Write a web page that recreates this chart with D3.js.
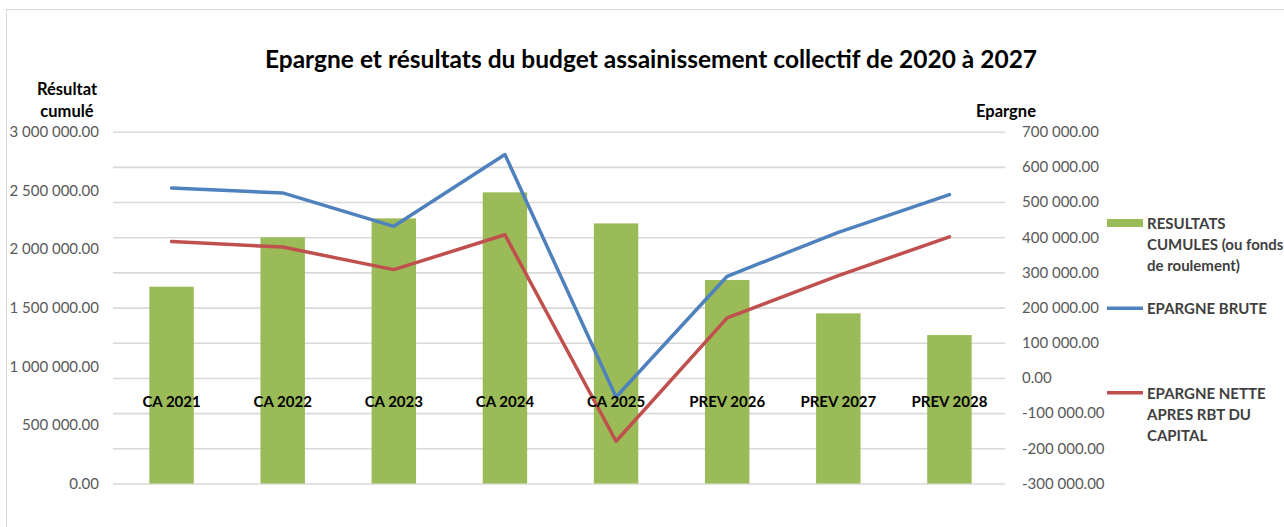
<!DOCTYPE html>
<html>
<head>
<meta charset="utf-8">
<script src="https://cdn.jsdelivr.net/npm/d3@7"></script>
<style>
  html, body { margin: 0; padding: 0; background: #fff; }
  svg { display: block; font-family: Lato, "Open Sans", sans-serif; }
</style>
</head>
<body>
<svg id="chart" width="1284" height="527"></svg>
<script>
const categories = ["CA 2021", "CA 2022", "CA 2023", "CA 2024", "CA 2025", "PREV 2026", "PREV 2027", "PREV 2028"];
const resultatsCumules = [1678000, 2099000, 2261000, 2483000, 2218000, 1735000, 1451000, 1266000];
const epargneBrute = [540000, 526000, 431000, 635000, -54000, 289000, 414000, 521000];
const epargneNette = [388000, 372000, 308000, 407000, -180000, 171000, 291000, 401000];
const leftTicks = [0, 500000, 1000000, 1500000, 2000000, 2500000, 3000000];
const rightTicks = [-300000, -200000, -100000, 0, 100000, 200000, 300000, 400000, 500000, 600000, 700000];

const colors = { bar: "#9BBB59", brute: "#4F81BD", nette: "#C0504D", grid: "#d9d9d9", axisText: "#595959", legendText: "#404040" };

const svg = d3.select("#chart");

// chart border
svg.append("rect").attr("x", 6.5).attr("y", 9.5).attr("width", 1400).attr("height", 600)
  .attr("fill", "#fff").attr("stroke", colors.grid).attr("stroke-width", 1);

const plotTop = 131.7, plotBottom = 483.5, plotLeft = 114, plotRight = 1005;

const x = d3.scaleBand().domain(categories).range([plotLeft + 2, plotRight]).paddingInner(0.6).paddingOuter(0.3);
const yL = d3.scaleLinear().domain([0, 3000000]).range([plotBottom, plotTop]);
const yR = d3.scaleLinear().domain([-300000, 700000]).range([plotBottom, plotTop]);

const fmt = v => d3.format(",.2f")(v).replace(/,/g, " ").replace("\u2212", "-");

// gridlines (from secondary axis)
svg.append("g").attr("transform", `translate(${plotLeft - 1},0)`)
  .call(d3.axisRight(yR).tickValues(rightTicks).tickSize(plotRight - plotLeft + 1).tickFormat(""))
  .call(g => g.select(".domain").remove())
  .call(g => g.selectAll("line").attr("stroke", colors.grid).attr("stroke-width", 1.6));

// bars
svg.append("g").selectAll("rect").data(resultatsCumules).join("rect")
  .attr("x", (d, i) => x(categories[i]))
  .attr("y", d => yL(d))
  .attr("width", x.bandwidth())
  .attr("height", d => yL(0) - yL(d))
  .attr("fill", colors.bar);

// lines
const line = d3.line().x((d, i) => x(categories[i]) + x.bandwidth() / 2).y(d => yR(d));
[[epargneBrute, colors.brute], [epargneNette, colors.nette]].forEach(([data, c]) => {
  svg.append("path").datum(data).attr("d", line).attr("fill", "none")
    .attr("stroke", c).attr("stroke-width", 3.5).attr("stroke-linejoin", "round").attr("stroke-linecap", "round");
});

// left axis
svg.append("g").attr("transform", `translate(${plotLeft},0)`)
  .call(d3.axisLeft(yL).tickValues(leftTicks).tickSize(0).tickPadding(15).tickFormat(fmt))
  .call(g => g.select(".domain").remove())
  .call(g => g.selectAll("text").attr("fill", colors.axisText).attr("font-size", 15).attr("font-family", "Lato, sans-serif"));

// right axis
svg.append("g").attr("transform", `translate(${plotRight},0)`)
  .call(d3.axisRight(yR).tickValues(rightTicks).tickSize(0).tickPadding(17).tickFormat(fmt))
  .call(g => g.select(".domain").remove())
  .call(g => g.selectAll("text").attr("fill", colors.axisText).attr("font-size", 15).attr("font-family", "Lato, sans-serif"));

// category labels at the zero line of the secondary axis
svg.append("g").attr("transform", `translate(0,${yR(0)})`)
  .call(d3.axisBottom(x).tickSize(0).tickPadding(18))
  .call(g => g.select(".domain").remove())
  .call(g => g.selectAll("text").attr("fill", "#000").attr("font-weight", "bold").attr("font-size", 15).attr("font-family", "Lato, sans-serif"));

// title
svg.append("text").attr("x", 651).attr("y", 68).attr("text-anchor", "middle")
  .attr("font-size", 24.5).attr("font-weight", "bold").attr("fill", "#000")
  .text("Epargne et résultats du budget assainissement collectif de 2020 à 2027");

// axis titles
const lt = svg.append("text").attr("text-anchor", "middle").attr("font-size", 16.5).attr("font-weight", "bold").attr("fill", "#000");
lt.append("tspan").attr("x", 67).attr("y", 95).text("Résultat");
lt.append("tspan").attr("x", 67).attr("y", 117).text("cumulé");
svg.append("text").attr("x", 976).attr("y", 117).attr("font-size", 16.5).attr("font-weight", "bold").attr("fill", "#000").text("Epargne");

// legend
const lg = svg.append("g").attr("font-size", 15).attr("font-weight", "bold").attr("fill", colors.legendText);
lg.append("rect").attr("x", 1107).attr("y", 219).attr("width", 36).attr("height", 8).attr("fill", colors.bar);
const legendItems = [
  { y: 222.7, lines: ["RESULTATS", "CUMULES (ou fonds", "de roulement)"] },
  { y: 308.3, lines: ["EPARGNE BRUTE"], color: colors.brute },
  { y: 392.7, lines: ["EPARGNE NETTE", "APRES RBT DU", "CAPITAL"], color: colors.nette }
];
legendItems.forEach(item => {
  if (item.color) {
    lg.append("line").attr("x1", 1107).attr("x2", 1143).attr("y1", item.y).attr("y2", item.y)
      .attr("stroke", item.color).attr("stroke-width", 3.5);
  }
  const t = lg.append("text").attr("dominant-baseline", "central");
  item.lines.forEach((l, k) => t.append("tspan").attr("x", 1147).attr("y", item.y + k * 21.3).text(l));
});
</script>
</body>
</html>
